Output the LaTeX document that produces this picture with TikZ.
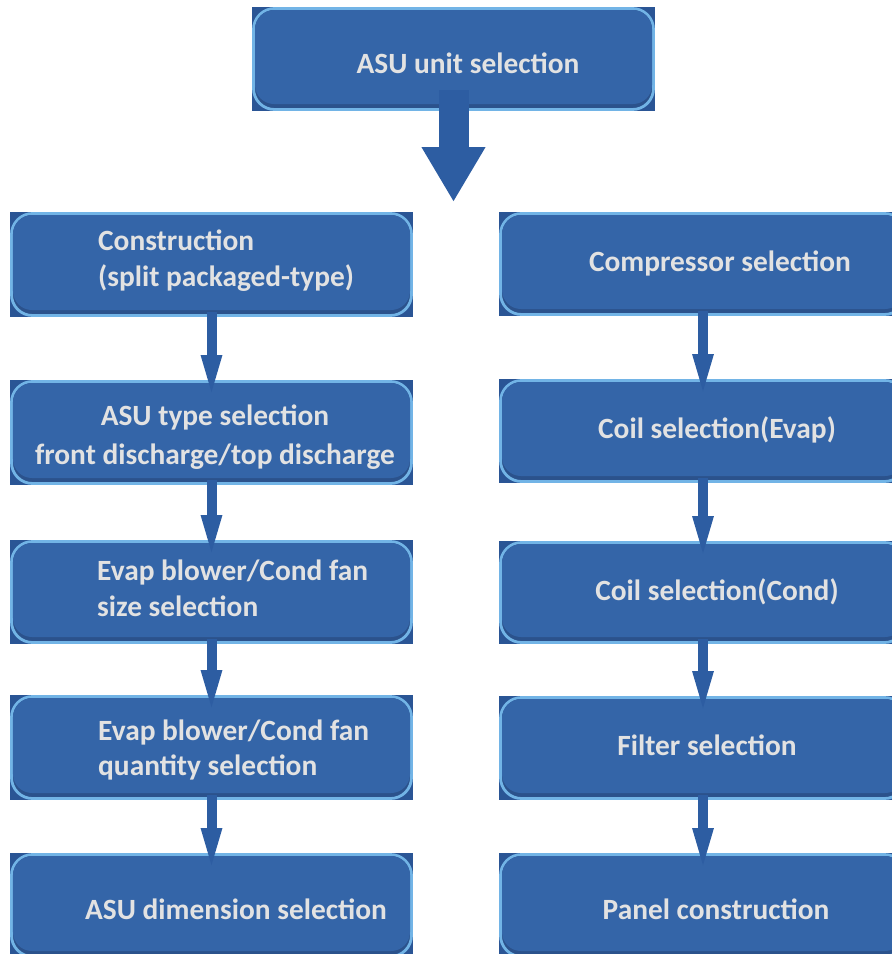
\documentclass[tikz,border=0pt]{standalone}
\usepackage{fontspec}
\setmainfont{Carlito}
\usetikzlibrary{arrows.meta}
\definecolor{boxblue}{HTML}{3465A8}
\definecolor{cornerblue}{HTML}{2A5595}
\definecolor{bandblue}{HTML}{2B528C}
\definecolor{borderblue}{HTML}{72B4E6}
\definecolor{arrowblue}{HTML}{2D5DA2}
\definecolor{txt}{HTML}{E2E2E2}
\newcommand\mkbox[5]{%
  \node[boxbase, minimum width=#4bp, minimum height=#5bp] (#1) at (#2,#3) {};
  \path[face] ([shift={(1.5,1.5)}]#1.north west) rectangle ([shift={(-1.5,-1.5)}]#1.south east);
  \path[facetop] ([shift={(3,3)}]#1.north west) rectangle ([shift={(-3,-7)}]#1.south east);}
\begin{document}
\begin{tikzpicture}[x=1bp,y=-1bp,
  boxbase/.style={rectangle, fill=cornerblue, inner sep=0, outer sep=0},
  face/.style={rounded corners=21bp, fill=bandblue, draw=borderblue, line width=2.8bp},
  facetop/.style={rounded corners=19bp, fill=boxblue},
  lbl/.style={text=txt, font=\bfseries\fontsize{29.5}{36}\selectfont, inner sep=0},
  thinarrow/.style={draw=arrowblue, line width=10bp, -{Triangle[width=18bp,length=45bp]}},
  bigarrow/.style={draw=arrowblue, line width=30bp, -{Triangle[width=60bp,length=55bp]}}
]
\clip (0,0) rectangle (892,954);
% boxes
\mkbox{top}{453.5}{59}{403}{104}
\mkbox{l1}{211.5}{264.5}{403}{105}
\mkbox{l2}{211.5}{432.5}{403}{105}
\mkbox{l3}{211.5}{592}{403}{104}
\mkbox{l4}{211.5}{747.5}{403}{105}
\mkbox{l5}{211.5}{905.5}{403}{105}
\mkbox{r1}{703}{264}{408}{104}
\mkbox{r2}{703}{431}{408}{104}
\mkbox{r3}{703}{592.5}{408}{103}
\mkbox{r4}{703}{748}{408}{104}
\mkbox{r5}{703}{905.5}{408}{105}
% arrows
\coordinate (bigtip) at (453.5,202);
\draw[bigarrow] ([yshift=21bp]top.south) -- (bigtip);
\foreach \a/\b in {l1/l2,l2/l3,l3/l4,l4/l5,r1/r2,r2/r3,r3/r4,r4/r5}
  \draw[thinarrow] ([yshift=5bp]\a.south) -- ([yshift=-20bp]\b.north);
% labels
\node[lbl] (t0) at (468,63) {ASU unit selection};
\node[lbl, anchor=west, align=left] (t1) at (98,261) {Construction\\(split packaged-type)};
\node[lbl, align=center] (t2) at (215,437) {ASU type selection\\[3bp]front discharge/top discharge};
\node[lbl, anchor=west, align=left] (t3) at (97,588) {Evap blower/Cond fan\\size selection};
\node[lbl, anchor=west, align=left] (t4) at (98,750) {Evap blower/Cond fan\\quantity selection};
\node[lbl] (t5) at (236,909) {ASU dimension selection};
\node[lbl] (t6) at (720,263) {Compressor selection};
\node[lbl] (t7) at (717,430) {Coil selection(Evap)};
\node[lbl] (t8) at (717,592) {Coil selection(Cond)};
\node[lbl] (t9) at (707,745) {Filter selection};
\node[lbl] (t10) at (716,909) {Panel construction};
\end{tikzpicture}
\end{document}
